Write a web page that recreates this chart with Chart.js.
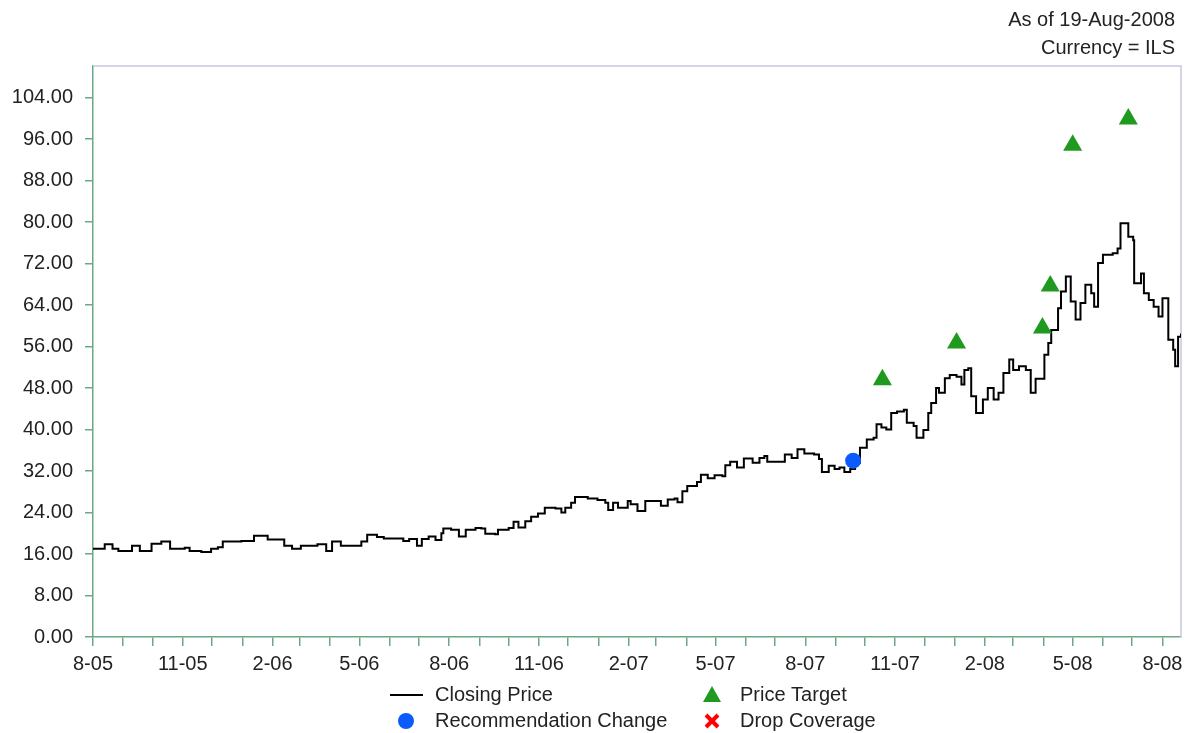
<!DOCTYPE html>
<html>
<head>
<meta charset="utf-8">
<script src="https://cdn.jsdelivr.net/npm/chart.js@4.4.1/dist/chart.umd.min.js"></script>
<style>
  html, body { margin: 0; padding: 0; background: #fff; overflow: hidden; }
  canvas { display: block; }
</style>
</head>
<body>
<canvas id="priceChart" width="1192" height="733"></canvas>
<script>
// x values are days counted from 1-Aug-2005
const closeDays = [0, 12, 20, 26, 40, 48, 60, 70, 79, 94, 99, 111, 121, 128, 133, 145, 152, 165, 179, 196,
  204, 213, 223, 230, 239, 245, 254, 267, 275, 281, 291, 298, 311, 318, 324, 332, 337, 344, 351, 357,
  359, 367, 375, 382, 392, 398, 402, 412, 415, 426, 431, 436, 443, 449, 456, 463, 474, 480, 484, 490,
  494, 507, 517, 525, 528, 533, 538, 548, 551, 558, 566, 576, 582, 589, 596, 599, 604, 609, 619, 623,
  630, 637, 645, 648, 653, 660, 667, 676, 683, 688, 691, 701, 709, 716, 722, 729, 739, 744, 747, 754,
  760, 765, 770, 776, 781, 786, 793, 800, 803, 808, 813, 818, 824, 831, 834, 841, 844, 851, 856, 859,
  864, 867, 873, 878, 885, 890, 893, 897, 900, 905, 912, 917, 923, 928, 933, 939, 943, 949, 956, 961,
  966, 972, 975, 979, 982, 989, 992, 997, 1002, 1007, 1012, 1017, 1023, 1026, 1030, 1035, 1045, 1050, 1053, 1058,
  1061, 1066, 1067, 1074, 1077, 1082, 1087, 1092, 1096, 1101, 1102, 1107, 1109, 1112, 1115];
const closePrices = [17.0, 17.9, 17.0, 16.6, 17.6, 16.6, 18.0, 18.4, 17.0, 17.2, 16.6, 16.4, 17.0, 17.3, 18.4, 18.4, 18.5, 19.5, 18.8, 17.6,
  17.0, 17.6, 17.6, 17.9, 16.6, 18.4, 17.6, 17.6, 18.4, 19.7, 19.3, 19.0, 19.0, 18.5, 18.9, 17.6, 18.9, 19.4, 18.7, 20.0,
  20.9, 20.7, 19.4, 20.7, 21.0, 20.9, 19.9, 19.8, 20.7, 21.0, 22.2, 21.1, 22.3, 23.2, 23.8, 24.9, 24.8, 24.0, 24.9, 25.9,
  27.0, 26.7, 26.4, 25.9, 24.5, 25.9, 24.9, 26.2, 25.6, 24.3, 26.2, 26.2, 25.3, 26.5, 26.7, 26.0, 28.1, 29.1, 29.9, 31.3,
  30.6, 31.2, 31.0, 33.1, 33.8, 32.7, 34.4, 33.6, 34.5, 34.9, 33.8, 33.8, 35.2, 34.5, 36.2, 35.4, 35.2, 34.3, 31.8, 33.0,
  32.4, 32.7, 31.8, 32.4, 33.6, 36.5, 38.1, 38.4, 41.0, 40.4, 40.0, 43.2, 43.5, 43.8, 41.3, 40.7, 38.4, 39.9, 43.2, 45.1,
  48.0, 47.1, 49.9, 50.5, 50.2, 48.7, 51.5, 51.8, 46.4, 43.2, 45.8, 48.0, 45.8, 47.1, 50.9, 53.5, 51.5, 52.2, 51.5, 47.1,
  49.8, 49.8, 54.4, 56.7, 59.2, 63.4, 66.6, 69.5, 64.7, 61.2, 64.4, 67.9, 66.3, 63.7, 72.1, 73.7, 74.0, 74.9, 79.8, 79.8,
  77.2, 76.5, 68.2, 70.1, 66.3, 65.0, 63.7, 61.8, 65.3, 65.3, 57.3, 55.4, 52.2, 57.9, 58.5];

const targetDays = [809, 885, 973, 981, 1004, 1061];
const targetPrices = [49.6, 56.7, 59.6, 67.7, 94.8, 99.9];
const recDays = [779];
const recPrices = [34.0];
const dropDays = [];
const dropPrices = [];

const yTicks = [0, 8, 16, 24, 32, 40, 48, 56, 64, 72, 80, 88, 96, 104];
const quarterLabels = ['8-05', '11-05', '2-06', '5-06', '8-06', '11-06', '2-07', '5-07', '8-07', '11-07', '2-08', '5-08', '8-08'];
const asOfText = 'As of 19-Aug-2008';
const currencyText = 'Currency = ILS';

const X_MAX = 1115; // 19-Aug-2008
const FONT = "'Liberation Sans', Arial, sans-serif";
const AXIS_GREEN = '#6aa88a';
const FRAME_BLUE = '#c8c8e4';
const TEXT = '#222';

// one tick at the start of each month, labelled every third month;
// an unlabelled end tick keeps the last label from squeezing the plot
const startUTC = Date.UTC(2005, 7, 1);
const monthTicks = [];
for (let i = 0; i <= 36; i++) {
    monthTicks.push((Date.UTC(2005, 7 + i, 1) - startUTC) / 86400000);
}
monthTicks.push(X_MAX);

function toPoints(xs, ys) {
    return xs.map((x, i) => ({ x: x, y: ys[i] }));
}

const frameAndText = {
    id: 'frameAndText',
    beforeDatasetsDraw(chart) {
        const { ctx, chartArea } = chart;
        ctx.save();
        ctx.strokeStyle = FRAME_BLUE;
        ctx.lineWidth = 1.5;
        ctx.beginPath();
        ctx.moveTo(chartArea.left, chartArea.top);
        ctx.lineTo(chartArea.right, chartArea.top);
        ctx.lineTo(chartArea.right, chartArea.bottom);
        ctx.stroke();
        ctx.restore();
    },
    afterDraw(chart) {
        const ctx = chart.ctx;
        ctx.save();
        ctx.fillStyle = TEXT;
        ctx.font = '20px ' + FONT;
        ctx.textBaseline = 'middle';
        ctx.textAlign = 'right';
        ctx.fillText(asOfText, 1175, 20);
        ctx.fillText(currencyText, 1175, 48);

        // legend, two columns
        const ds = chart.data.datasets;
        ctx.textAlign = 'left';
        const rows = [695, 721];
        const col1 = 406, col2 = 712;
        // closing price
        ctx.strokeStyle = '#000';
        ctx.lineWidth = 2;
        ctx.beginPath();
        ctx.moveTo(390, rows[0]);
        ctx.lineTo(423, rows[0]);
        ctx.stroke();
        ctx.fillText(ds[0].label, 435, rows[0]);
        // recommendation change
        ctx.fillStyle = ds[2].backgroundColor;
        ctx.beginPath();
        ctx.arc(col1, rows[1], 8, 0, Math.PI * 2);
        ctx.fill();
        ctx.fillStyle = TEXT;
        ctx.fillText(ds[2].label, 435, rows[1]);
        // price target
        ctx.fillStyle = ds[1].backgroundColor;
        ctx.beginPath();
        ctx.moveTo(col2, rows[0] - 9);
        ctx.lineTo(col2 + 9, rows[0] + 7);
        ctx.lineTo(col2 - 9, rows[0] + 7);
        ctx.closePath();
        ctx.fill();
        ctx.fillStyle = TEXT;
        ctx.fillText(ds[1].label, 740, rows[0]);
        // drop coverage
        ctx.strokeStyle = ds[3].borderColor;
        ctx.lineWidth = 4;
        ctx.beginPath();
        ctx.moveTo(col2 - 6, rows[1] - 6);
        ctx.lineTo(col2 + 6, rows[1] + 6);
        ctx.moveTo(col2 + 6, rows[1] - 6);
        ctx.lineTo(col2 - 6, rows[1] + 6);
        ctx.stroke();
        ctx.fillText(ds[3].label, 740, rows[1]);
        ctx.restore();
    }
};

new Chart(document.getElementById('priceChart'), {
    type: 'line',
    data: {
        datasets: [
            {
                label: 'Closing Price',
                data: toPoints(closeDays, closePrices),
                borderColor: '#000',
                borderWidth: 2,
                stepped: true,
                pointRadius: 0,
                fill: false,
                order: 3
            },
            {
                label: 'Price Target',
                data: toPoints(targetDays, targetPrices),
                showLine: false,
                pointStyle: 'triangle',
                pointRadius: 11,
                backgroundColor: '#1f9a1f',
                borderColor: '#1f9a1f',
                borderWidth: 0,
                order: 1
            },
            {
                label: 'Recommendation Change',
                data: toPoints(recDays, recPrices),
                showLine: false,
                pointStyle: 'circle',
                pointRadius: 8,
                backgroundColor: '#0a5cff',
                borderColor: '#0a5cff',
                borderWidth: 0,
                order: 1
            },
            {
                label: 'Drop Coverage',
                data: toPoints(dropDays, dropPrices),
                showLine: false,
                pointStyle: 'crossRot',
                pointRadius: 7,
                borderColor: '#ff0000',
                borderWidth: 4,
                order: 1
            }
        ]
    },
    options: {
        responsive: false,
        devicePixelRatio: 1,
        animation: false,
        layout: { padding: { top: 66, right: 6, left: 0, bottom: 0 } },
        plugins: {
            legend: { display: false },
            tooltip: { enabled: false }
        },
        scales: {
            x: {
                type: 'linear',
                min: 0,
                max: X_MAX,
                afterBuildTicks: (scale) => { scale.ticks = monthTicks.map(v => ({ value: v })); },
                afterFit: (scale) => { scale.height = 96; },
                border: { color: AXIS_GREEN, width: 1.5 },
                grid: {
                    drawOnChartArea: false,
                    drawTicks: true,
                    tickLength: 9,
                    lineWidth: 1.5,
                    color: (c) => (c.tick && c.tick.value === X_MAX ? 'rgba(0,0,0,0)' : AXIS_GREEN)
                },
                ticks: {
                    autoSkip: false,
                    maxRotation: 0,
                    padding: 6,
                    color: TEXT,
                    font: { family: FONT, size: 20 },
                    callback: (value, index) => (index % 3 === 0 && index <= 36 ? quarterLabels[index / 3] : '')
                }
            },
            y: {
                min: 0,
                max: 110.1,
                afterBuildTicks: (scale) => { scale.ticks = yTicks.map(v => ({ value: v })); },
                afterFit: (scale) => { scale.width = 93; },
                border: { color: AXIS_GREEN, width: 1.5 },
                grid: { drawOnChartArea: false, drawTicks: true, tickLength: 8, color: AXIS_GREEN, lineWidth: 1.5 },
                ticks: {
                    padding: 12,
                    color: TEXT,
                    font: { family: FONT, size: 20 },
                    callback: (value) => value.toFixed(2)
                }
            }
        }
    },
    plugins: [frameAndText]
});
</script>
</body>
</html>
